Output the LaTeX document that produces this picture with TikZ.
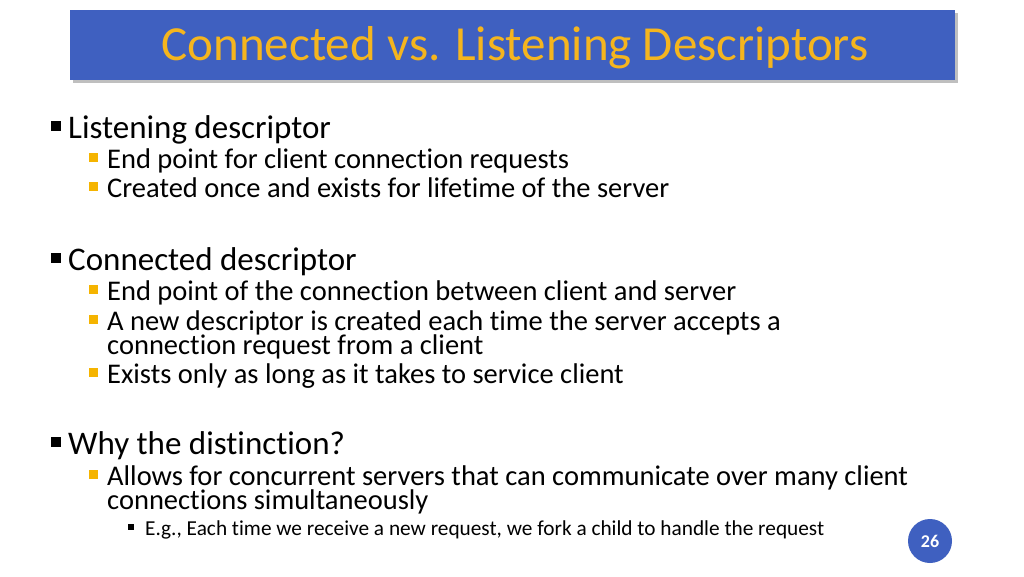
\documentclass[tikz,border=0pt]{standalone}
\usepackage{fontspec}
\setmainfont[RawFeature=-liga]{Carlito}
\definecolor{barblue}{HTML}{3F60C0}
\definecolor{titleorange}{HTML}{F5B51E}
\definecolor{bulorange}{HTML}{F5B400}
\begin{document}
\begin{tikzpicture}[x=1pt,y=-1pt,
  lone/.style={anchor=base west,inner sep=0pt,font=\fontsize{33}{35}\selectfont},
  ltwo/.style={anchor=base west,inner sep=0pt,font=\fontsize{28.5}{30}\selectfont},
  lthree/.style={anchor=base west,inner sep=0pt,font=\fontsize{21.3}{23}\selectfont},
  bone/.style={fill=black,minimum size=10pt,inner sep=0pt},
  btwo/.style={fill=bulorange,minimum size=9pt,inner sep=0pt},
  bthree/.style={fill=black,minimum size=6pt,inner sep=0pt}]
\useasboundingbox (0,0) rectangle (1024,576);
\fill[white] (0,0) rectangle (1024,576);
\fill[black!25] (73,13) rectangle (958,83);
\fill[barblue] (70,10) rectangle (955,80);
\node[anchor=center,text=titleorange,font=\fontsize{49}{51}\selectfont] (title) at (515,48) {Connected vs. Listening Descriptors};

\node[bone] (b1) at (56,126) {};
\node[lone] (t1) at (68,138) {Listening descriptor};
\node[btwo] (b11) at (93,157) {};
\node[ltwo] (t11) at (107,168) {End point for client connection requests};
\node[btwo] (b12) at (93,186) {};
\node[ltwo] (t12) at (107,197) {Created once and exists for lifetime of the server};

\node[bone] (b2) at (56,258) {};
\node[lone] (t2) at (68,270) {Connected descriptor};
\node[btwo] (b21) at (93,289) {};
\node[ltwo] (t21) at (107,300) {End point of the connection between client and server};
\node[btwo] (b22) at (93,319) {};
\node[ltwo] (t22) at (107,330) {A new descriptor is created each time the server accepts a};
\node[ltwo] (t22b) at (107,354) {connection request from a client};
\node[btwo] (b23) at (93,372) {};
\node[ltwo] (t23) at (107,383) {Exists only as long as it takes to service client};

\node[bone] (b3) at (56,442) {};
\node[lone] (t3) at (68,454) {Why the distinction?};
\node[btwo] (b31) at (93,474) {};
\node[ltwo] (t31) at (107,485) {Allows for concurrent servers that can communicate over many client};
\node[ltwo] (t31b) at (107,509) {connections simultaneously};
\node[bthree] (b311) at (131,527) {};
\node[lthree] (t311) at (145,535) {E.g., Each time we receive a new request, we fork a child to handle the request};

\node[circle,fill=barblue,minimum size=44pt,inner sep=0pt,text=white,font=\fontsize{18}{20}\selectfont\bfseries] (pg) at (930,541) {26};
\end{tikzpicture}
\end{document}
